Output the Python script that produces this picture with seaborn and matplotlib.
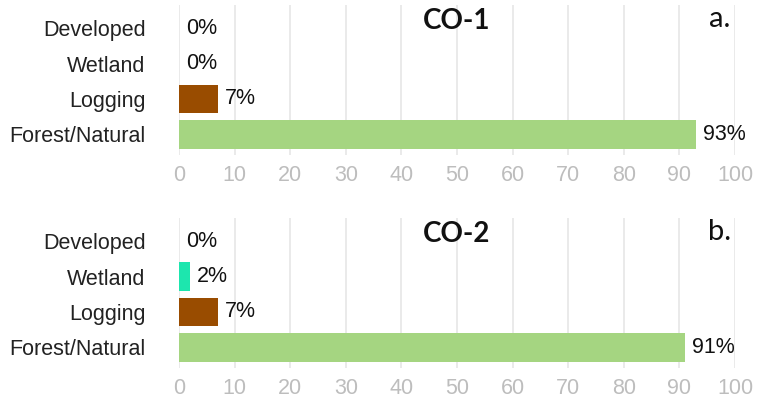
import matplotlib
matplotlib.use("Agg")
import matplotlib.pyplot as plt
import seaborn as sns
import pandas as pd

categories = ["Developed", "Wetland", "Logging", "Forest/Natural"]
co1_values = [0, 0, 7, 93]
co2_values = [0, 2, 7, 91]
panel_titles = ["CO-1", "CO-2"]
panel_letters = ["a.", "b."]
x_ticks = [0, 10, 20, 30, 40, 50, 60, 70, 80, 90, 100]
colors = {"Developed": "#3366CC", "Wetland": "#1DE6AE",
          "Logging": "#994C00", "Forest/Natural": "#A5D581"}

sns.set_theme(style="white")
plt.rcParams['font.family'] = ['Liberation Sans', 'DejaVu Sans']

fig = plt.figure(figsize=(7.71, 4.0), dpi=100)
ax1 = fig.add_axes([0.2322, 0.6125, 0.7211, 0.375])
ax2 = fig.add_axes([0.2322, 0.08, 0.7211, 0.375])

for ax, vals, title, letter in zip([ax1, ax2], [co1_values, co2_values], panel_titles, panel_letters):
    df = pd.DataFrame({"cat": categories, "val": vals})
    sns.barplot(data=df, x="val", y="cat", hue="cat", palette=colors, order=categories,
                hue_order=categories, legend=False, width=0.8, ax=ax, zorder=3,
                edgecolor="none", saturation=1)
    ax.set_xlim(0, 100)
    ax.set_ylim(3.58, -0.65)
    ax.set_xticks(x_ticks)
    ax.set_xticklabels([str(t) for t in x_ticks])
    ax.xaxis.grid(True, color="#E6E6E6", linewidth=1.2, zorder=0)
    ax.yaxis.grid(False)
    for s in ax.spines.values():
        s.set_visible(False)
    ax.tick_params(axis="x", length=0, pad=7, labelsize=15.5, labelcolor="#BDBDBD")
    ax.tick_params(axis="y", length=0, pad=24, labelsize=15.5, labelcolor="#222222")
    ax.set_xlabel("")
    ax.set_ylabel("")
    for i, v in enumerate(vals):
        ax.annotate(f"{v}%", xy=(v, i), xytext=(5, 0), textcoords="offset points",
                    ha="left", va="center", fontsize=15.5, color="#111111")
    ax.text(50, -0.2, title, ha="center", va="center", fontsize=20, fontweight="bold",
            family=["Lato", "DejaVu Sans"], color="#111111")
    ax.text(97.2, -0.25, letter, ha="center", va="center", fontsize=21,
            family=["Lato", "DejaVu Sans"], color="#111111")

fig.savefig("out.png", dpi=100)
